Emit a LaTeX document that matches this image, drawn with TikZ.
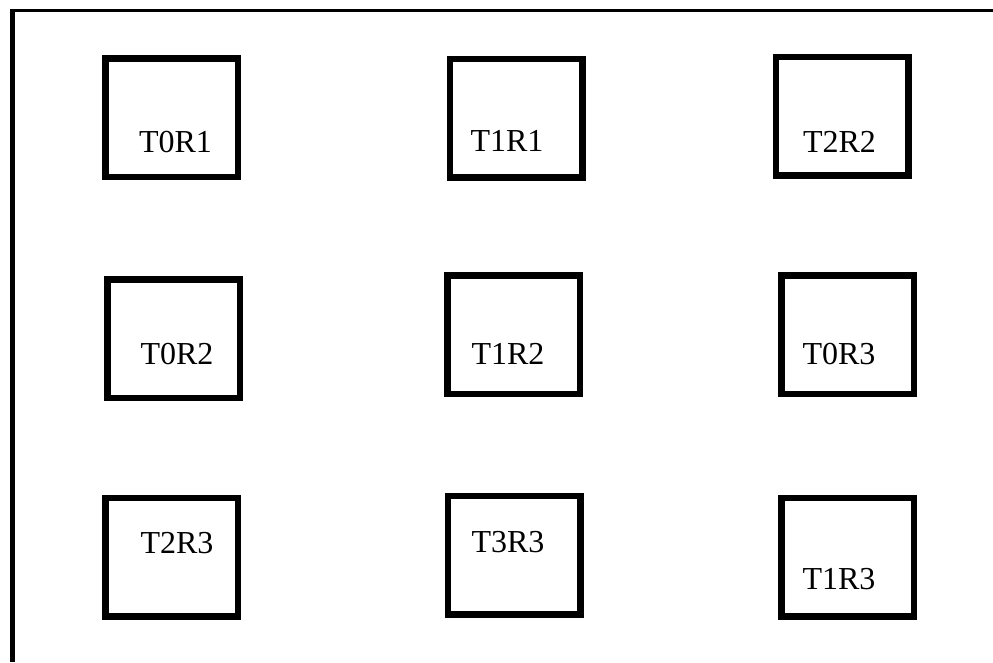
\documentclass[tikz,border=0pt]{standalone}
\usepackage{fontspec}
\setmainfont{Liberation Serif}

\begin{document}
\begin{tikzpicture}[x=1pt,y=-1pt,
	tile/.style={draw,line width=6.5pt,minimum width=132.5pt,minimum height=118.5pt,inner sep=0pt},
	lbl/.style={anchor=base,inner sep=0pt,font=\fontsize{32}{38}\selectfont}]
	\useasboundingbox (0,0) rectangle (993,662);
	% frame, only top and left edge
	\coordinate (NW) at (12.5,10.3);
	\coordinate (NE) at (993,10.3);
	\coordinate (SW) at (12.5,662);
	\draw[line width=3pt] (10,10.3)--(NE);
	\draw[line width=5.5pt] (NW)--(SW);

	% first row
	\node[tile] (A) at (171.5,117.5) {};
	\node[tile] (B) at (516,118) {};
	\node[tile] (C) at (842,116) {};
	\node[lbl] (a) at (175.5,152) {T0R1};
	\node[lbl] (b) at (507,151) {T1R1};
	\node[lbl] (c) at (839.5,152) {T2R2};

	% second row
	\node[tile] (D) at (173.5,338.5) {};
	\node[tile] (E) at (513.5,334.5) {};
	\node[tile] (F) at (847.5,334.5) {};
	\node[lbl] (d) at (177,364) {T0R2};
	\node[lbl] (e) at (508,364) {T1R2};
	\node[lbl] (f) at (839,364) {T0R3};

	% third row
	\node[tile] (G) at (171.5,557) {};
	\node[tile] (H) at (514,555) {};
	\node[tile] (I) at (847.5,557) {};
	\node[lbl] (g) at (177,553) {T2R3};
	\node[lbl] (h) at (508,552) {T3R3};
	\node[lbl] (i) at (839,589) {T1R3};
\end{tikzpicture}
\end{document}
